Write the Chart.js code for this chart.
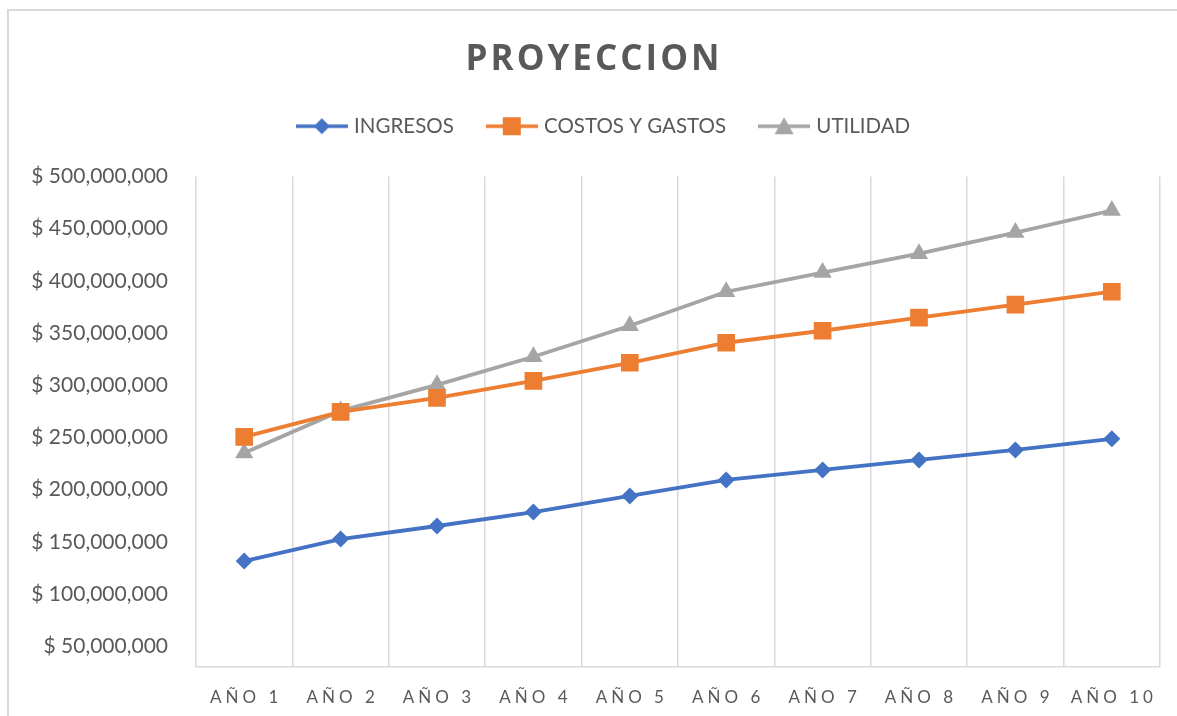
<!DOCTYPE html>
<html><head><meta charset="utf-8">
<script src="https://cdn.jsdelivr.net/npm/chart.js@4.4.1/dist/chart.umd.min.js"></script>
<style>
html,body{margin:0;padding:0;background:#fff;overflow:hidden}
#wrap{position:relative;width:1177px;height:716px}
#frame{position:absolute;left:7px;top:9px;width:1180px;height:730px;border:2px solid #d9d9d9;box-sizing:border-box;pointer-events:none}
canvas{display:block}
</style></head><body>
<div id="wrap"><canvas id="c" width="1177" height="716"></canvas><div id="frame"></div></div>
<script>
const categories = ['AÑO 1','AÑO 2','AÑO 3','AÑO 4','AÑO 5','AÑO 6','AÑO 7','AÑO 8','AÑO 9','AÑO 10'];
const ingresos = [131.5e6,152.6e6,165.1e6,178.5e6,193.9e6,209.2e6,218.8e6,228.4e6,238.0e6,248.6e6];
const costosYGastos = [250.5e6,274.5e6,287.9e6,304.2e6,321.5e6,340.7e6,352.2e6,364.7e6,377.2e6,389.6e6];
const utilidad = [235.1e6,275.4e6,300.4e6,327.3e6,357.0e6,389.6e6,407.9e6,426.0e6,446.3e6,467.4e6];
const yTickValues = [50e6,100e6,150e6,200e6,250e6,300e6,350e6,400e6,450e6,500e6];
const seriesNames = ['INGRESOS','COSTOS Y GASTOS','UTILIDAD'];
const seriesColors = ['#4472C4','#ED7D31','#A5A5A5'];

const TEXT = '#595959';
const GRID = '#d9d9d9';

function legendImage(color, style){
  const c = document.createElement('canvas');
  c.width = 52; c.height = 22;
  const x = c.getContext('2d');
  x.strokeStyle = color; x.lineWidth = 3.5;
  x.beginPath(); x.moveTo(0,11); x.lineTo(52,11); x.stroke();
  x.fillStyle = color;
  x.beginPath();
  if (style === 'rectRot'){ x.moveTo(26,3); x.lineTo(34,11); x.lineTo(26,19); x.lineTo(18,11); }
  else if (style === 'rect'){ x.rect(17,2,18,18); }
  else { x.moveTo(26,2); x.lineTo(35.5,19); x.lineTo(16.5,19); }
  x.closePath(); x.fill();
  return c;
}
const styles = ['rectRot','rect','triangle'];
const radii = [8.5,12.5,10.5];

const chart = new Chart(document.getElementById('c'), {
  type: 'line',
  data: {
    labels: categories,
    datasets: [ingresos, costosYGastos, utilidad].map((d,i)=>({
      label: seriesNames[i], data: d,
      borderColor: seriesColors[i], backgroundColor: seriesColors[i],
      borderWidth: 3.8, pointStyle: styles[i], pointRadius: radii[i],
      pointBorderWidth: 0, pointBackgroundColor: seriesColors[i], tension: 0
    }))
  },
  options: {
    responsive: false, animation: false,
    layout: { padding: { left: 0, right: 17, top: 0, bottom: 0 } },
    plugins: {
      tooltip: { enabled: false },
      title: { display: true, text: 'PROYECCION', color: TEXT,
        font: { family: 'Open Sans', size: 35, weight: 'bold', lineHeight: 1 },
        padding: { top: 43, bottom: 2 } },
      legend: { display: true, position: 'top',
        labels: { usePointStyle: true, pointStyleWidth: 44, padding: 36, color: TEXT,
          font: { family: 'Lato', size: 20.5 },
          generateLabels: (ch) => ch.data.datasets.map((ds,i)=>({
            text: ds.label, pointStyle: legendImage(seriesColors[i], styles[i]),
            fillStyle: seriesColors[i], strokeStyle: seriesColors[i], lineWidth: 0,
            fontColor: TEXT, datasetIndex: i, hidden: false })) } }
    },
    scales: {
      x: { offset: true,
        grid: { offset: true, color: GRID, lineWidth: 1.5, drawTicks: false },
        border: { color: GRID, width: 1.5 },
        ticks: { color: TEXT, padding: 20, font: { family: 'Lato', size: 17 }, maxRotation: 0 },
        afterFit: (s) => { s.height = 49; } },
      y: { min: 30e6, max: 500e6,
        grid: { display: false }, border: { display: false },
        afterBuildTicks: (s) => { s.ticks = yTickValues.map(v=>({value:v})); },
        afterFit: (s) => { s.width = 196; },
        ticks: { color: TEXT, padding: 20, font: { family: 'Lato', size: 21 },
          callback: (v) => '$ ' + Number(v).toLocaleString('en-US') } }
    }
  }
});

// letter spacing and centring tweaks
const xs = chart.scales.x;
const oxl = xs.drawLabels.bind(xs);
xs.drawLabels = function(a){ const c = this.ctx; c.save(); c.letterSpacing = '4px'; c.translate(2,0); oxl(a); c.restore(); };
const tb = chart.titleBlock;
const otd = tb.draw.bind(tb);
tb.draw = function(){ const c = this.ctx; c.save(); c.letterSpacing = '3px'; c.translate(14,0); otd(); c.restore(); };
const lg = chart.legend;
const ofit = lg.fit.bind(lg);
lg.fit = function(){ ofit(); this.height += 30; };
const old = lg.draw.bind(lg);
lg.draw = function(){ const c = this.ctx; c.save(); c.translate(25,0); old(); c.restore(); };
chart.update('none');
</script>
</body></html>
